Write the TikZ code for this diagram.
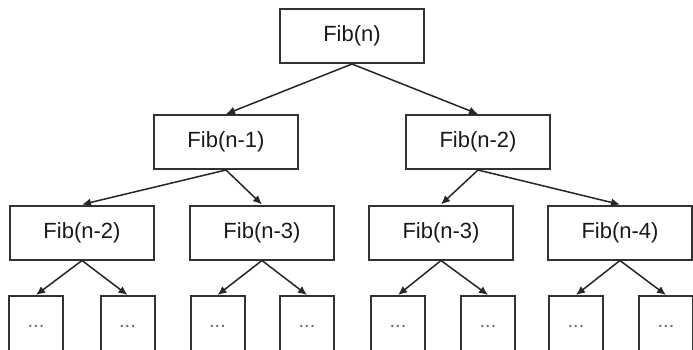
\documentclass[tikz,border=0pt]{standalone}
\usepackage{fontspec}
\setmainfont{Liberation Sans}
\usetikzlibrary{arrows.meta}
\begin{document}
\begin{tikzpicture}[x=1pt,y=-1pt,
  fib/.style={draw=black!80, line width=2pt, minimum width=144pt, minimum height=54pt, inner sep=0pt, font=\fontsize{22}{26}\selectfont, text=black!90},
  leaf/.style={draw=black!80, line width=2pt, minimum width=54pt, minimum height=60pt, inner sep=0pt, font=\fontsize{20}{24}\selectfont, text=black!60},
  arr/.style={-{Latex[length=9pt,width=8pt]}, line width=1.5pt, draw=black!85}]
\useasboundingbox (0,0) rectangle (693,349);
% level 0
\node[fib] (r) at (352,36) {Fib(n)};
% level 1
\node[fib] (a) at (226,142) {Fib(n-1)};
\node[fib] (b) at (478,142) {Fib(n-2)};
% level 2
\node[fib] (aa) at (82,232.5) {Fib(n-2)};
\node[fib] (ab) at (262,232.5) {Fib(n-3)};
\node[fib] (ba) at (441,232.5) {Fib(n-3)};
\node[fib] (bb) at (620,232.5) {Fib(n-4)};
% level 3
\node[leaf] (aa1) at (36,326) {...};
\node[leaf] (aa2) at (127.5,326) {...};
\node[leaf] (ab1) at (217.5,326) {...};
\node[leaf] (ab2) at (307,326) {...};
\node[leaf] (ba1) at (398,326) {...};
\node[leaf] (ba2) at (488,326) {...};
\node[leaf] (bb1) at (576,326) {...};
\node[leaf] (bb2) at (666,326) {...};
% connectors
\draw[arr] (r.south) -- (a.north);
\draw[arr] (r.south) -- (b.north);
\draw[arr] (a.south) -- (aa.north);
\draw[arr] (a.south) -- (ab.north);
\draw[arr] (b.south) -- (ba.north);
\draw[arr] (b.south) -- (bb.north);
\draw[arr] (aa.south) -- (aa1.north);
\draw[arr] (aa.south) -- (aa2.north);
\draw[arr] (ab.south) -- (ab1.north);
\draw[arr] (ab.south) -- (ab2.north);
\draw[arr] (ba.south) -- (ba1.north);
\draw[arr] (ba.south) -- (ba2.north);
\draw[arr] (bb.south) -- (bb1.north);
\draw[arr] (bb.south) -- (bb2.north);
\end{tikzpicture}
\end{document}
